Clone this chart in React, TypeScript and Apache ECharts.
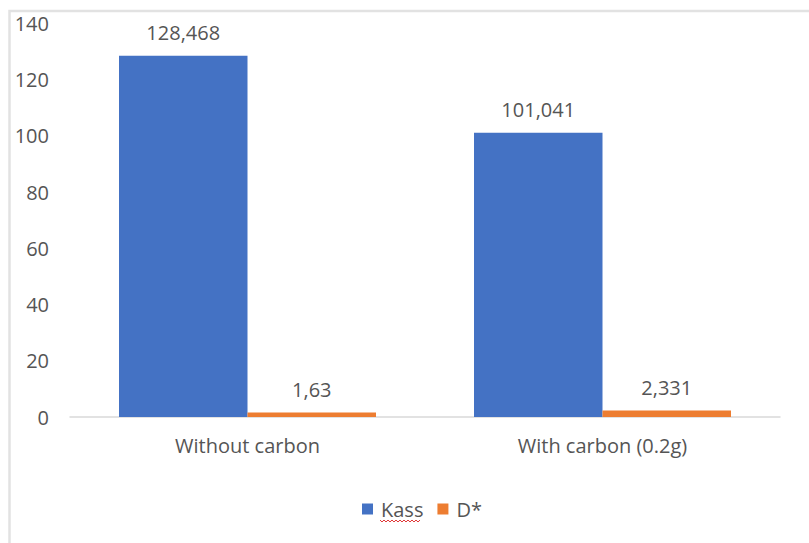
import React, { useEffect, useRef } from "react";
import * as echarts from "echarts";

const categories = ["Without carbon", "With carbon (0.2g)"];
const kassValues = [128.468, 101.041];
const dStarValues = [1.63, 2.331];
const kassLabels = ["128,468", "101,041"];
const dStarLabels = ["1,63", "2,331"];
const seriesNames = ["Kass", "D*"];

const FONT = "'Open Sans', 'Noto Sans', sans-serif";
const TEXT = "#555555";

export default function App() {
  const ref = useRef<HTMLDivElement>(null);
  useEffect(() => {
    if (!ref.current) return;
    const chart = echarts.init(ref.current, undefined, { renderer: "svg" });
    chart.setOption({
      animation: false,
      backgroundColor: "#ffffff",
      textStyle: { fontFamily: FONT },
      grid: { left: 70, right: 29, top: 23.3, bottom: 126, containLabel: false },
      graphic: [
        {
          type: "rect",
          shape: { x: 9.5, y: 11, width: 900, height: 700 },
          style: { fill: "none", stroke: "#e2e2e2", lineWidth: 2.5 },
          silent: true,
          z: -1,
        },
        {
          type: "polyline",
          shape: {
            points: [
              [380, 520], [382, 522], [384, 520], [386, 522], [388, 520], [390, 522],
              [392, 520], [394, 522], [396, 520], [398, 522], [400, 520], [402, 522],
              [404, 520], [406, 522], [408, 520], [410, 522], [412, 520], [414, 522],
              [416, 520], [418, 522], [420, 520],
            ],
          },
          style: { fill: "none", stroke: "#e03a3a", lineWidth: 1 },
          silent: true,
        },
      ],
      legend: {
        data: seriesNames,
        left: 362,
        top: 499,
        padding: 0,
        itemWidth: 11,
        itemHeight: 11,
        itemGap: 14,
        icon: "rect",
        textStyle: { color: TEXT, fontSize: 20, fontFamily: FONT, padding: [0, 0, 0, 3] },
      },
      xAxis: {
        type: "category",
        data: categories,
        axisLine: { lineStyle: { color: "#d9d9d9", width: 1.5 } },
        axisTick: { show: false },
        axisLabel: { color: TEXT, fontSize: 20, margin: 18, fontFamily: FONT },
      },
      yAxis: {
        type: "value",
        min: 0,
        max: 140,
        interval: 20,
        axisLine: { show: false },
        axisTick: { show: false },
        splitLine: { show: false },
        axisLabel: { color: TEXT, fontSize: 20, margin: 21, fontFamily: FONT },
      },
      series: [
        {
          name: seriesNames[0],
          type: "bar",
          data: kassValues,
          barWidth: 128.5,
          barGap: "0%",
          itemStyle: { color: "#4472C4" },
          label: {
            show: true,
            position: "top",
            distance: 13,
            color: TEXT,
            fontSize: 20,
            fontFamily: FONT,
            formatter: (p: any) => kassLabels[p.dataIndex],
          },
        },
        {
          name: seriesNames[1],
          type: "bar",
          data: dStarValues,
          barWidth: 128.5,
          barGap: "0%",
          itemStyle: { color: "#ED7D31" },
          label: {
            show: true,
            position: "top",
            distance: 13,
            color: TEXT,
            fontSize: 20,
            fontFamily: FONT,
            formatter: (p: any) => dStarLabels[p.dataIndex],
          },
        },
      ],
    });
    return () => chart.dispose();
  }, []);
  return (
    <div
      ref={ref}
      style={{ position: "fixed", left: 0, top: 0, width: 809, height: 543, background: "#fff" }}
    />
  );
}
